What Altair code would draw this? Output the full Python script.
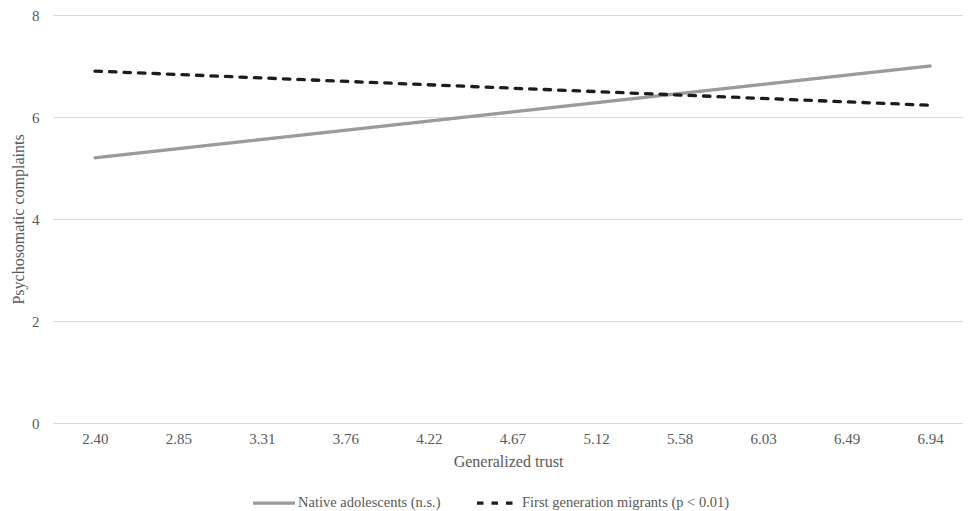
import altair as alt
import pandas as pd

trust_labels = ["2.40", "2.85", "3.31", "3.76", "4.22", "4.67", "5.12", "5.58", "6.03", "6.49", "6.94"]
series_names = ["Native adolescents (n.s.)", "First generation migrants (p < 0.01)"]
native_x = ["2.40", "6.94"]
native_y = [5.2, 7.0]
migrant_x = ["2.40", "6.94"]
migrant_y = [6.9, 6.23]

rows = []
for x, y in zip(native_x, native_y):
    rows.append({"trust": x, "value": y, "group": series_names[0]})
for x, y in zip(migrant_x, migrant_y):
    rows.append({"trust": x, "value": y, "group": series_names[1]})
df = pd.DataFrame(rows)

font = "Liberation Serif"
txt = "#595959"

chart = alt.Chart(df).mark_line(strokeWidth=3.3, strokeCap="round").encode(
    x=alt.X("trust:N", sort=None,
            scale=alt.Scale(domain=trust_labels, padding=0.449, align=0.56),
            axis=alt.Axis(title="Generalized trust", labelAngle=0, grid=False, domain=False,
                          ticks=False, labelPadding=8, titlePadding=7)),
    y=alt.Y("value:Q", scale=alt.Scale(domain=[0, 8], nice=False),
            axis=alt.Axis(title="Psychosomatic complaints", values=[0, 2, 4, 6, 8],
                          grid=True, domain=False, ticks=False, labelPadding=14,
                          titlePadding=5)),
    color=alt.Color("group:N", scale=alt.Scale(domain=series_names, range=["#9b9b9b", "#1c1c1c"]),
                    legend=alt.Legend(title=None, orient="none", direction="horizontal",
                                      legendX=198, legendY=479, padding=0,
                                      symbolType="M-1,0H5", symbolSize=196,
                                      symbolStrokeWidth=3.3, columnPadding=29,
                                      labelOffset=29, labelLimit=500)),
    strokeDash=alt.StrokeDash("group:N",
                              scale=alt.Scale(domain=series_names, range=[[1, 0], [6.5, 8]]),
                              legend=None),
).properties(
    width=910,
    height=408,
    autosize=alt.AutoSizeParams(type="none"),
    padding={"left": 45, "top": 7, "right": 0, "bottom": 88},
).configure_view(
    stroke=None
).configure_axis(
    labelFont=font, titleFont=font, labelFontSize=15, titleFontSize=16,
    labelColor=txt, titleColor=txt, titleFontWeight="normal",
    gridColor="#d9d9d9", gridWidth=1
).configure_legend(
    labelFont=font, labelFontSize=14.5, labelColor=txt
)

chart.save("out.html", embed_options={"renderer": "svg", "actions": False})
